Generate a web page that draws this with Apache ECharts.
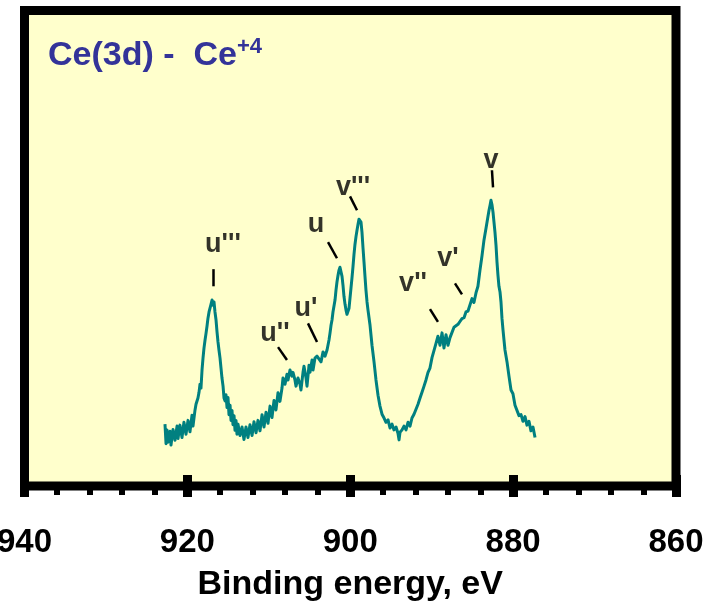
<!DOCTYPE html>
<html>
<head>
<meta charset="utf-8">
<script src="https://cdn.jsdelivr.net/npm/echarts@6/dist/echarts.min.js"></script>
<style>
html,body{margin:0;padding:0;background:#ffffff;}
#chart{width:709px;height:604px;}
</style>
</head>
<body>
<div id="chart"></div>
<script>
// Binding energy (eV) of each spectrum point
var energy = [
922.75,922.62,922.50,922.38,922.13,922.01,921.76,921.52,921.27,921.15,920.91,920.66,920.42,920.17,919.92,919.68,919.43,919.31,919.06,918.94,
918.70,918.57,918.45,918.33,918.20,918.08,917.96,917.83,917.71,917.59,917.47,917.34,917.22,917.10,916.97,916.85,916.73,916.61,916.48,916.36,
916.24,916.12,915.99,915.87,915.75,915.62,915.50,915.38,915.26,915.13,915.01,914.89,914.76,914.64,914.52,914.40,914.27,914.15,914.03,913.91,
913.78,913.54,913.29,913.05,912.80,912.56,912.31,912.06,911.82,911.57,911.33,911.08,910.83,910.59,910.34,910.10,909.85,909.61,909.36,909.12,
908.87,908.63,908.38,908.26,908.01,907.77,907.64,907.40,907.15,907.03,906.79,906.66,906.42,906.17,906.05,905.80,905.68,905.43,905.31,905.06,
904.94,904.69,904.57,904.33,904.08,903.84,903.59,903.34,903.10,902.85,902.61,902.49,902.36,902.24,902.12,901.87,901.75,901.63,901.50,901.38,
901.26,901.14,901.01,900.89,900.77,900.64,900.52,900.40,900.28,900.15,900.03,899.91,899.79,899.66,899.54,899.42,899.29,899.17,899.05,898.93,
898.80,898.68,898.56,898.43,898.31,898.19,898.07,897.94,897.82,897.57,897.33,897.08,896.84,896.59,896.35,896.10,895.85,895.61,895.36,895.12,
894.87,894.63,894.38,894.14,894.01,893.89,893.64,893.40,893.15,892.91,892.66,892.42,892.17,891.93,891.68,891.43,891.19,890.94,890.70,890.45,
890.21,889.96,889.72,889.47,889.23,888.98,888.73,888.49,888.24,888.00,887.75,887.51,887.26,887.02,886.77,886.53,886.28,886.03,885.79,885.54,
885.30,885.05,884.81,884.56,884.32,884.07,883.83,883.58,883.33,883.09,882.96,882.84,882.72,882.60,882.47,882.35,882.23,882.10,881.98,881.86,
881.74,881.61,881.49,881.37,881.24,881.12,881.00,880.75,880.51,880.26,880.02,879.77,879.53,879.28,879.03,878.79,878.54,878.30,878.05,877.81,
877.56,877.31
];
// Intensity (arbitrary units) of each spectrum point
var intensity = [
13.0,8.9,11.8,9.2,11.5,8.6,11.9,9.6,12.6,10.0,12.8,10.2,13.4,10.9,13.8,11.4,14.9,12.6,16.0,17.2,
18.5,19.7,21.4,20.6,24.4,26.9,29.0,30.7,32.1,33.6,35.3,36.6,37.0,38.2,39.1,38.0,38.7,36.6,34.9,32.4,
30.3,28.6,26.9,24.8,22.7,21.0,18.5,17.9,19.2,16.5,18.6,15.0,17.0,13.8,15.9,12.9,14.8,11.7,13.8,10.9,
13.0,10.6,12.4,9.8,12.4,10.2,12.9,10.6,13.5,11.2,13.8,11.6,15.0,12.4,15.5,13.2,16.8,14.4,18.0,16.0,
19.6,17.8,20.6,22.7,21.4,23.5,22.3,24.4,23.1,23.9,22.3,21.0,22.7,21.4,20.2,23.9,25.2,22.7,21.0,25.4,
23.9,26.5,24.4,26.9,27.3,26.9,26.1,28.2,27.3,28.6,30.7,32.1,33.8,34.9,36.6,39.1,41.2,42.9,44.3,45.4,
46.0,45.8,44.1,42.2,39.9,38.2,37.0,36.1,36.3,37.4,39.5,41.6,43.7,46.2,48.7,50.8,52.5,53.8,55.0,56.1,
56.5,55.5,53.4,50.0,47.1,44.1,41.2,38.7,37.0,33.8,29.6,26.1,22.3,19.1,16.8,15.1,14.3,13.4,13.9,12.2,
13.0,11.8,12.4,11.1,9.7,11.3,11.8,12.6,11.8,13.4,12.6,14.3,15.1,15.5,17.2,18.5,19.7,21.0,22.3,23.9,
24.8,27.0,27.0,30.0,31.5,29.6,32.2,29.0,31.8,29.6,31.2,30.8,33.4,33.0,34.0,34.6,35.2,35.4,36.6,36.8,
37.0,39.4,38.6,40.6,42.0,45.4,48.3,51.7,54.2,56.7,58.0,59.0,60.1,59.2,57.6,55.5,53.4,50.6,47.1,44.3,
42.0,40.8,38.7,35.3,32.8,30.7,28.6,26.1,23.1,20.2,19.4,17.0,17.2,14.8,15.0,13.6,14.6,12.8,13.6,11.6,
12.4,10.2
];
// Peak annotations
var peakNames   = ["u'''", "u''", "u'", "u", "v'''", "v''", "v'", "v"];
var peakLabelE  = [915.63, 909.24, 905.43, 904.21, 899.66, 892.29, 888.00, 882.72];
var peakLabelI  = [51.5, 32.6, 38.0, 55.7, 63.4, 43.3, 48.5, 69.1];
var leaderE1    = [916.85, 908.87, 905.19, 902.73, 900.03, 890.21, 887.14, 882.60];
var leaderI1    = [45.6, 29.2, 34.2, 51.3, 60.9, 37.2, 42.6, 66.4];
var leaderE2    = [916.85, 907.77, 904.08, 901.63, 899.17, 889.23, 886.28, 882.47];
var leaderI2    = [42.0, 26.5, 30.3, 47.9, 58.0, 34.5, 40.3, 62.8];
// Axis
var xMin = 860, xMax = 940, xStep = 20;
var xTitle = 'Binding energy, eV';
var chartTitle = 'Ce(3d) -  Ce';
var chartTitleSup = '+4';

var FONT = "'Liberation Sans', Arial, Helvetica, sans-serif";

var spectrum = energy.map(function (e, i) { return [e, intensity[i]]; });
var labelPts = peakNames.map(function (n, i) { return { name: n, value: [peakLabelE[i], peakLabelI[i]] }; });
var leaders = peakNames.map(function (n, i) {
  return [{ coord: [leaderE1[i], leaderI1[i]] }, { coord: [leaderE2[i], leaderI2[i]] }];
});

var chart = echarts.init(document.getElementById('chart'), null, { renderer: 'canvas' });
chart.setOption({
  animation: false,
  backgroundColor: '#ffffff',
  title: {
    text: '{m|' + chartTitle + '}{s|' + chartTitleSup + '}',
    left: 43, top: 31,
    textStyle: {
      rich: {
        m: { fontFamily: FONT, fontWeight: 'bold', fontSize: 34, color: '#333399', lineHeight: 40 },
        s: { fontFamily: FONT, fontWeight: 'bold', fontSize: 22, color: '#333399', lineHeight: 22, verticalAlign: 'top' }
      }
    }
  },
  grid: {
    left: 24.5, right: 33, top: 10.5, bottom: 118,
    containLabel: false, outerBoundsMode: 'none',
    show: true, backgroundColor: '#FFFFCC', borderColor: '#000000', borderWidth: 9
  },
  xAxis: [{
    type: 'value', inverse: true, min: xMin, max: xMax, interval: xStep,
    position: 'bottom',
    name: xTitle, nameLocation: 'middle', nameGap: 82,
    nameTextStyle: { fontFamily: FONT, fontWeight: 'bold', fontSize: 34, color: '#000' },
    axisLine: { show: false },
    axisTick: { show: true, inside: false, length: 11, lineStyle: { color: '#000', width: 9 } },
    minorTick: { show: true, splitNumber: 5, length: 9, lineStyle: { color: '#000', width: 6 } },
    splitLine: { show: false },
    axisLabel: { show: true, margin: 40, fontFamily: FONT, fontWeight: 'bold', fontSize: 33, color: '#000' }
  }, {
    type: 'value', inverse: true, min: xMin, max: xMax, interval: xStep,
    position: 'bottom',
    axisLine: { show: false },
    axisTick: { show: true, inside: true, length: 11, lineStyle: { color: '#000', width: 9 } },
    splitLine: { show: false },
    axisLabel: { show: false }
  }],
  yAxis: {
    type: 'value', min: 0, max: 100, show: false
  },
  series: [{
    type: 'line',
    xAxisIndex: 0,
    data: spectrum,
    showSymbol: false,
    lineStyle: { color: '#008080', width: 3, join: 'round' },
    z: 3
  }, {
    type: 'scatter',
    xAxisIndex: 0,
    data: labelPts,
    symbolSize: 0,
    silent: true,
    label: {
      show: true, position: 'inside', formatter: '{b}', offset: [0, 3],
      fontFamily: FONT, fontWeight: 'bold', fontSize: 27, color: '#000'
    },
    markLine: {
      silent: true, symbol: 'none', animation: false,
      label: { show: false },
      lineStyle: { color: '#000', width: 2.5, type: 'solid' },
      data: leaders
    },
    z: 4
  }]
});
</script>
</body>
</html>
